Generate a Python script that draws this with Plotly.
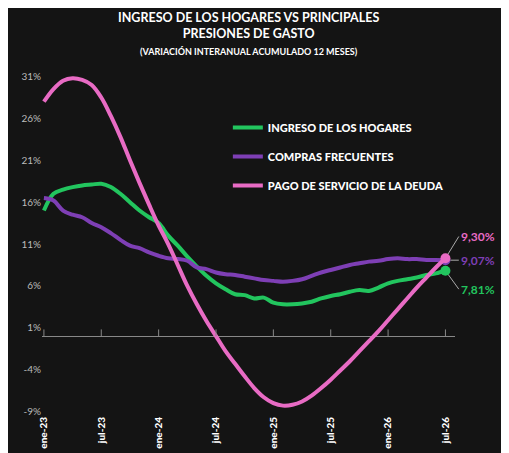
import plotly.graph_objects as go

meses = ["ene-23", "jul-23", "ene-24", "jul-24", "ene-25", "jul-25", "ene-26", "jul-26"]
ingreso = [15, 17, 17.5, 17.8, 18, 18.1, 18.2, 17.8, 17, 16, 15, 14.2, 13.5, 12, 10.8, 9.5, 8.3, 7.2,
           6.3, 5.6, 5.0, 4.9, 4.5, 4.6, 4.0, 3.8, 3.8, 3.9, 4.1, 4.5, 4.8, 5.0, 5.3, 5.5, 5.4, 5.8,
           6.3, 6.6, 6.8, 7.0, 7.3, 7.5, 7.81]
compras = [16.5, 16.2, 15, 14.5, 14.2, 13.5, 13, 12.3, 11.5, 10.8, 10.5, 10, 9.6, 9.3, 9.2, 9.0, 8.2,
           8.0, 7.6, 7.4, 7.3, 7.1, 6.9, 6.7, 6.6, 6.5, 6.6, 6.8, 7.2, 7.6, 7.9, 8.2, 8.5, 8.7, 8.9,
           9.0, 9.2, 9.3, 9.2, 9.2, 9.1, 9.1, 9.07]
deuda = [28, 29.5, 30.5, 30.8, 30.6, 30, 28.5, 26.3, 23.8, 21, 18.3, 15.7, 13.2, 11, 8.5, 6, 3.8, 1.8,
         0, -1.8, -3.3, -4.8, -6.2, -7.3, -8.0, -8.3, -8.2, -7.8, -7.1, -6.2, -5.2, -4.1, -3.0, -1.8,
         -0.6, 0.6, 1.9, 3.2, 4.5, 5.8, 7.0, 8.2, 9.3]
nombres = ["INGRESO DE LOS HOGARES", "COMPRAS FRECUENTES", "PAGO DE SERVICIO DE LA DEUDA"]
colores = ["#22c55e", "#7e3fb5", "#e86bc4"]
etiquetas = ["7,81%", "9,07%", "9,30%"]

x = list(range(len(ingreso)))
fig = go.Figure()
for nombre, serie, color in zip(nombres, [ingreso, compras, deuda], colores):
    fig.add_trace(go.Scatter(x=x, y=serie, name=nombre, mode="lines", legendgroup=nombre,
                             line=dict(color=color, width=4, shape="spline")))
    fig.add_trace(go.Scatter(x=[x[-1]], y=[serie[-1]], mode="markers", showlegend=False,
                             legendgroup=nombre, marker=dict(color=color, size=10)))

# end labels with leader lines
offs = [-2.2, 0, 2.6]
for serie, color, txt, off in zip([ingreso, compras, deuda], colores, etiquetas, offs):
    fig.add_annotation(x=x[-1], y=serie[-1], ax=x[-1] + 1.4, ay=serie[-1] + off,
                       axref="x", ayref="y", text=f"<b>{txt}</b>", xanchor="left",
                       showarrow=True, arrowhead=0, arrowcolor="#aaaaaa", arrowwidth=1,
                       standoff=5, font=dict(color=color, size=12))

for v in range(0, len(x), 6):
    fig.add_shape(type="line", x0=v, x1=v, y0=0, y1=0.8, line=dict(color="#888888", width=1))

fig.add_annotation(xref="paper", yref="paper", x=0.5, y=1.0, yshift=56, yanchor="top", showarrow=False,
                   text="<b>INGRESO DE LOS HOGARES VS PRINCIPALES<br>PRESIONES DE GASTO</b><br>"
                        "<span style='font-size:9px'><b>(VARIACIÓN INTERANUAL ACUMULADO 12 MESES)</b></span>",
                   font=dict(size=12.5, color="white"))

fig.update_layout(
    width=509, height=453, paper_bgcolor="#141414", plot_bgcolor="#141414",
    font=dict(family="Lato", color="white"),
    margin=dict(l=34, r=62, t=56, b=45),
    legend=dict(x=0.45, y=0.86, xanchor="left", yanchor="top", bgcolor="rgba(0,0,0,0)",
                font=dict(size=11, color="white", family="Lato Black"), tracegroupgap=10,
                traceorder="grouped", itemwidth=30),
    showlegend=True,
    xaxis=dict(range=[-0.2, 43], tickvals=list(range(0, len(x), 6)), ticktext=meses, tickangle=-90,
               showgrid=False, zeroline=False, tickfont=dict(size=10, color="white", family="Lato Black")),
    yaxis=dict(range=[-9.3, 32.5], tickvals=list(range(-9, 32, 5)), ticktext=[f"{v}%" for v in range(-9, 32, 5)],
               showgrid=False, zeroline=True, zerolinecolor="#888888", zerolinewidth=1,
               tickfont=dict(size=10, color="#bbbbbb")),
)
fig.write_html("out.html")
